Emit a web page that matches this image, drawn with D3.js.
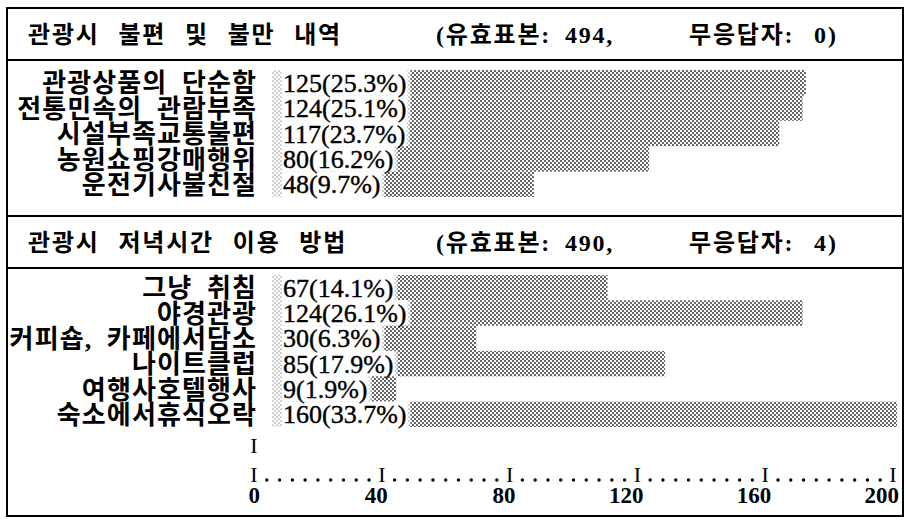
<!DOCTYPE html>
<html>
<head>
<meta charset="utf-8">
<script src="https://d3js.org/d3.v7.min.js"></script>
<style>
  body { margin: 0; background: white; }
  svg { display: block; }
</style>
</head>
<body>
<div id="chart"></div>
<script>
// data
const complaintLabels = ['관광상품의 단순함', '전통민속의 관람부족', '시설부족교통불편', '농원쇼핑강매행위', '운전기사불친절'];
const complaintCounts = [125, 124, 117, 80, 48];
const complaintPcts = [25.3, 25.1, 23.7, 16.2, 9.7];

const eveningLabels = ['그냥 취침', '야경관광', '커피숍, 카페에서담소', '나이트클럽', '여행사호텔행사', '숙소에서휴식오락'];
const eveningCounts = [67, 124, 30, 85, 9, 160];
const eveningPcts = [14.1, 26.1, 6.3, 17.9, 1.9, 33.7];

const sectionTitles = ['관광시 불편 및 불만 내역', '관광시 저녁시간 이용 방법'];
const validSamples = [494, 490];
const nonResponse = [0, 4];

const tickValues = [0, 40, 80, 120, 160, 200];

const width = 906, height = 520;
const left = 7, right = 903;
const serif = "'Liberation Serif', 'Noto Sans CJK KR', serif";

const svg = d3.select('#chart')
  .append('svg')
  .attr('width', width)
  .attr('height', height)
  .style('background-color', 'white');

// dot screens like the old printer shading
const defs = svg.append('defs');
const dense = defs.append('pattern')
  .attr('id', 'dense')
  .attr('patternUnits', 'userSpaceOnUse')
  .attr('width', 4).attr('height', 4);
dense.append('rect').attr('width', 4).attr('height', 4).attr('fill', 'white');
dense.append('circle').attr('cx', 1).attr('cy', 1).attr('r', 0.95).attr('fill', '#222');
dense.append('circle').attr('cx', 3).attr('cy', 3).attr('r', 0.95).attr('fill', '#222');

const light = defs.append('pattern')
  .attr('id', 'light')
  .attr('patternUnits', 'userSpaceOnUse')
  .attr('width', 4).attr('height', 4);
light.append('rect').attr('width', 4).attr('height', 4).attr('fill', 'white');
light.append('circle').attr('cx', 1).attr('cy', 1).attr('r', 0.6).attr('fill', '#333');
light.append('circle').attr('cx', 3).attr('cy', 3).attr('r', 0.6).attr('fill', '#333');

// value scale shared by the bars and the bottom axis
const x = d3.scaleLinear()
  .domain([0, 200])
  .range([254, 893]);

const sections = [
  { labels: complaintLabels, counts: complaintCounts, pcts: complaintPcts, titleTop: 8, titleBottom: 60, barTop: 70, barBottom: 197 },
  { labels: eveningLabels, counts: eveningCounts, pcts: eveningPcts, titleTop: 216, titleBottom: 268, barTop: 275, barBottom: 427 }
];

const barStart = 272;
const valueX = 283;

sections.forEach((s, k) => {
  // header
  const ty = (s.titleTop + s.titleBottom) / 2;
  const head = svg.append('g')
    .attr('font-family', serif)
    .attr('font-weight', 'bold')
    .attr('font-size', 24)
    .attr('letter-spacing', 1.8);

  head.append('text')
    .attr('x', 28).attr('y', ty)
    .attr('dy', '0.37em')
    .attr('word-spacing', 11)
    .text(sectionTitles[k]);

  head.append('text')
    .attr('x', 436).attr('y', ty)
    .attr('dy', '0.37em')
    .attr('word-spacing', 6)
    .text(`(유효표본: ${validSamples[k]},`);

  head.append('text')
    .attr('x', 689).attr('y', ty)
    .attr('dy', '0.37em')
    .attr('word-spacing', 12)
    .text(`무응답자: ${nonResponse[k]})`);

  const y = d3.scaleBand()
    .domain(s.labels)
    .range([s.barTop, s.barBottom])
    .padding(0);

  const bg = svg.append('g');
  const fg = svg.append('g');

  fg.selectAll('text.label')
    .data(s.labels)
    .enter()
    .append('text')
    .attr('class', 'label')
    .attr('x', 257)
    .attr('y', d => y(d) + y.bandwidth() / 2)
    .attr('dy', '0.37em')
    .attr('text-anchor', 'end')
    .attr('font-family', serif)
    .attr('font-weight', 'bold')
    .attr('font-size', 26)
    .attr('letter-spacing', 1.1)
    .attr('word-spacing', 7)
    .text(d => d);

  s.labels.forEach((lab, i) => {
    const yy = y(lab);
    const h = y.bandwidth();
    const t = fg.append('text')
      .attr('x', valueX)
      .attr('y', yy + h / 2)
      .attr('dy', '0.35em')
      .attr('font-family', serif)
      .attr('font-size', 26)
      .attr('stroke', 'black')
      .attr('stroke-width', 0.4)
      .text(`${s.counts[i]}(${s.pcts[i].toFixed(1)}%)`);
    const textEnd = valueX + t.node().getComputedTextLength();
    const denseStart = textEnd + 4;
    // bar runs on past the printed value, never beyond the end of the scale
    const denseEnd = Math.min(textEnd + (x(s.counts[i]) - x(0)), x.range()[1] + 4);

    bg.append('rect')
      .attr('x', barStart).attr('y', yy)
      .attr('width', denseStart - barStart).attr('height', h)
      .attr('fill', 'url(#light)');
    bg.append('rect')
      .attr('x', valueX - 1).attr('y', yy)
      .attr('width', textEnd - valueX + 2).attr('height', h)
      .attr('fill', 'white');
    bg.append('rect')
      .attr('x', denseStart).attr('y', yy)
      .attr('width', Math.max(0, denseEnd - denseStart)).attr('height', h)
      .attr('fill', 'url(#dense)');
  });
});

// frame and rules
svg.append('rect')
  .attr('x', left).attr('y', 8)
  .attr('width', right - left).attr('height', 508)
  .attr('fill', 'none')
  .attr('stroke', 'black')
  .attr('stroke-width', 2);

[60, 216, 268].forEach(ly => {
  svg.append('line')
    .attr('x1', left).attr('x2', right)
    .attr('y1', ly).attr('y2', ly)
    .attr('stroke', 'black')
    .attr('stroke-width', 2);
});

// typewriter style axis: I marks, dot leaders, numbers
const axis = svg.append('g')
  .attr('font-family', serif)
  .attr('font-size', 22);

axis.append('text')
  .attr('x', x(0)).attr('y', 453)
  .attr('text-anchor', 'middle')
  .text('I');

axis.selectAll('text.tick')
  .data(tickValues)
  .enter()
  .append('text')
  .attr('class', 'tick')
  .attr('x', d => x(d)).attr('y', 482)
  .attr('text-anchor', 'middle')
  .text('I');

const leaders = d3.range(0, 200, 4).filter(v => v % 40 !== 0);
axis.selectAll('circle')
  .data(leaders)
  .enter()
  .append('circle')
  .attr('cx', d => x(d)).attr('cy', 480)
  .attr('r', 1.7)
  .attr('fill', 'black');

axis.selectAll('text.num')
  .data(tickValues)
  .enter()
  .append('text')
  .attr('class', 'num')
  .attr('x', d => x(d) + 6).attr('y', 503)
  .attr('text-anchor', 'end')
  .attr('font-weight', 'bold')
  .attr('font-size', 23)
  .text(d => d);
</script>
</body>
</html>
